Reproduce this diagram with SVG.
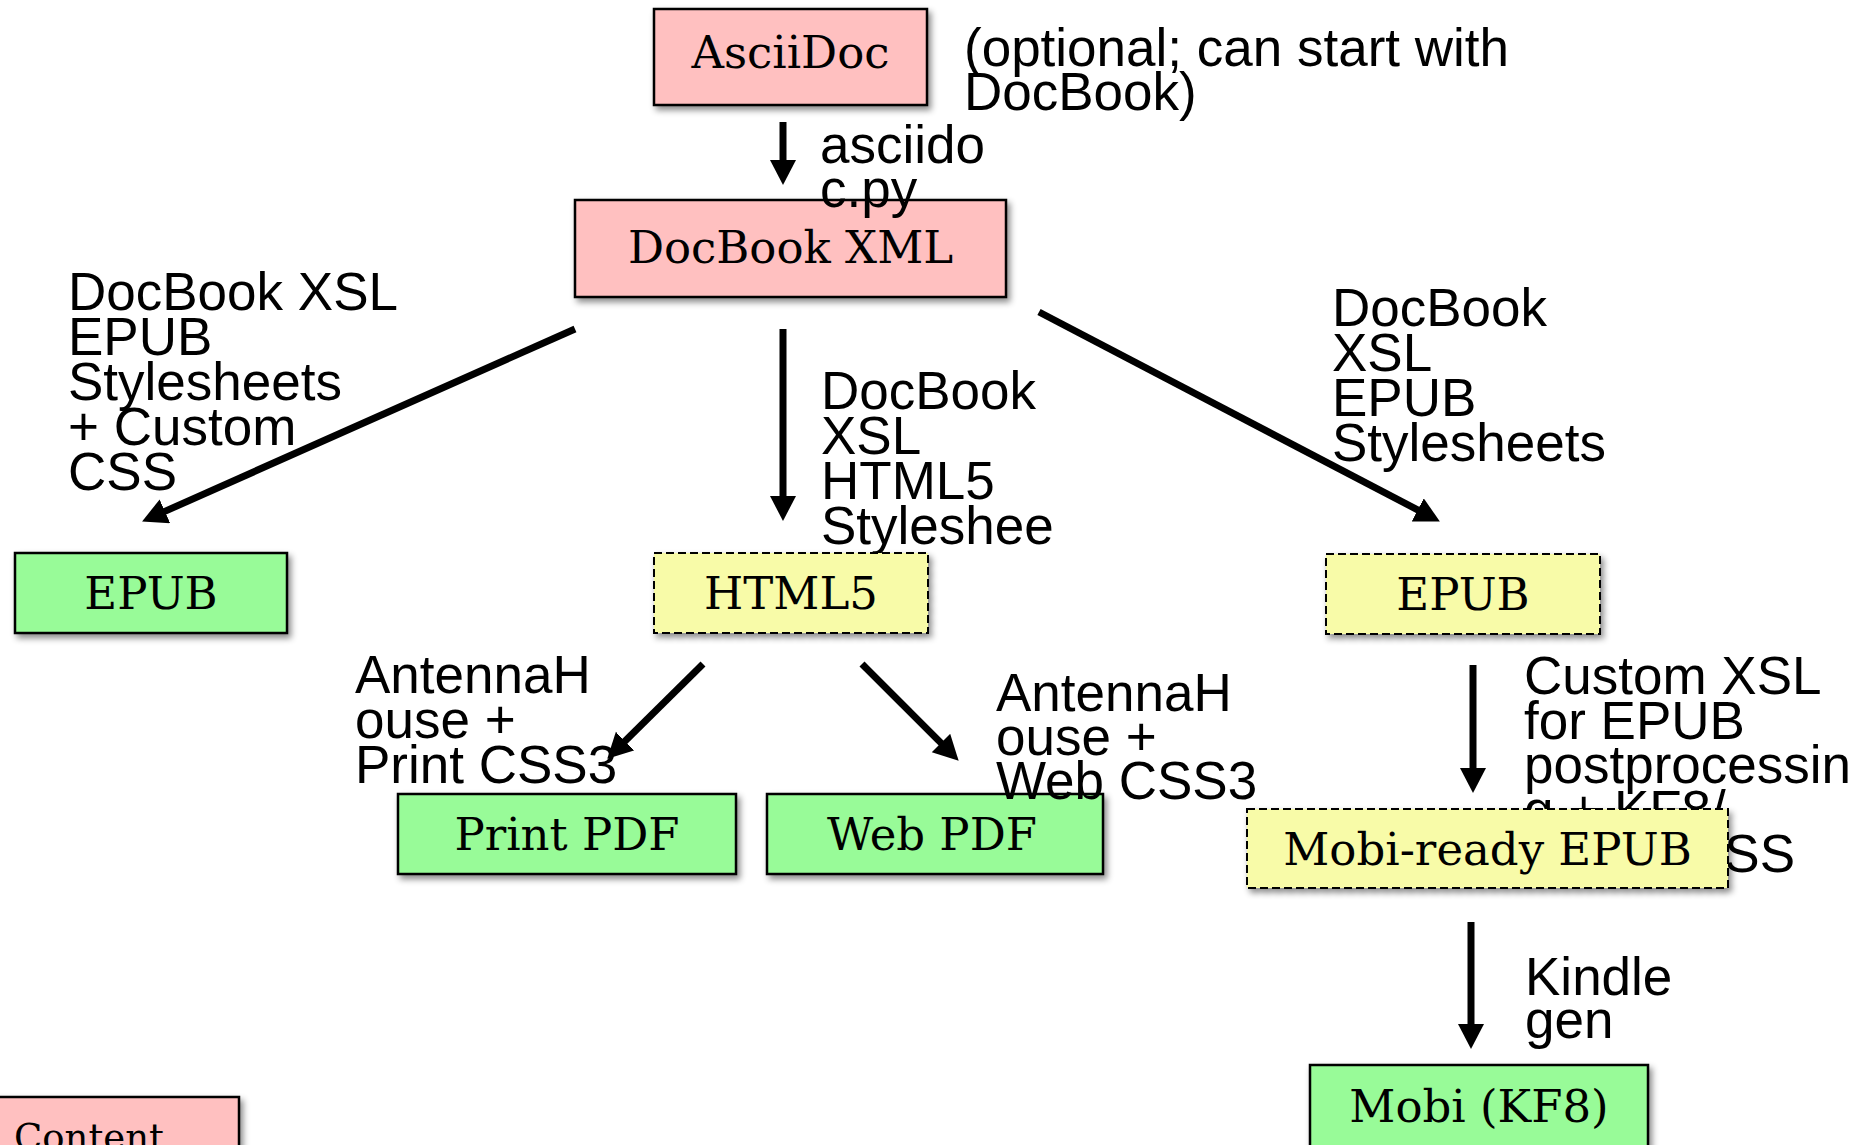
<svg xmlns="http://www.w3.org/2000/svg" width="1863" height="1145" viewBox="0 0 1863 1145">
<style>
.box{stroke:#000;stroke-width:2.5}
.dash{stroke:#000;stroke-width:2;stroke-dasharray:8 4}
.pink{fill:#ffc0c0}
.green{fill:#98fb98}
.yellow{fill:#f8fba8}
.nt{font-family:"DejaVu Serif","Liberation Serif",serif;font-size:45px;fill:#000;text-anchor:middle}
.lb{font-family:"Liberation Sans",Arial,sans-serif;font-size:53px;fill:#000}
.cn{stroke:#000;stroke-width:7;fill:none;marker-end:url(#ah)}
</style>
<defs>
<filter id="sh" x="-10%" y="-10%" width="130%" height="140%">
<feDropShadow dx="3" dy="4" stdDeviation="3" flood-color="#000" flood-opacity="0.45"/>
</filter>
<marker id="ah" markerUnits="userSpaceOnUse" markerWidth="28" markerHeight="28" refX="2" refY="13" orient="auto">
<path d="M0,0 L25,13 L0,26 z" fill="#000"/>
</marker>
</defs>
<rect width="1863" height="1145" fill="#fff"/>

<g id="asciidoc"><rect class="box pink" x="654" y="9" width="273" height="96" filter="url(#sh)"/><text class="nt" x="790.5" y="68">AsciiDoc</text></g>
<g id="docbookxml"><rect class="box pink" x="575" y="200" width="431" height="97" filter="url(#sh)"/><text class="nt" x="790.5" y="263">DocBook XML</text></g>
<g id="epub-left"><rect class="box green" x="15" y="553" width="272" height="80" filter="url(#sh)"/><text class="nt" x="151" y="609">EPUB</text></g>
<g id="printpdf"><rect class="box green" x="398" y="794" width="338" height="80" filter="url(#sh)"/><text class="nt" x="567" y="850">Print PDF</text></g>
<g id="webpdf"><rect class="box green" x="767" y="794" width="336" height="80" filter="url(#sh)"/><text class="nt" x="932" y="850">Web PDF</text></g>
<g id="mobi"><rect class="box green" x="1310" y="1065" width="338" height="84" filter="url(#sh)"/><text class="nt" x="1479" y="1122">Mobi (KF8)</text></g>
<g id="content"><rect class="box pink" x="-35" y="1097" width="274" height="60" filter="url(#sh)"/><text class="nt" x="14" y="1150" style="text-anchor:start;font-size:37px">Content</text></g>

<g id="connectors">
<line class="cn" x1="783" y1="122" x2="783" y2="162"/>
<line class="cn" x1="575" y1="329" x2="163.1" y2="512.1"/>
<line class="cn" x1="783" y1="329" x2="783" y2="498"/>
<line class="cn" x1="1039" y1="312" x2="1419.5" y2="510.8"/>
<line class="cn" x1="703" y1="664" x2="623.6" y2="742.5"/>
<line class="cn" x1="862" y1="664" x2="942.4" y2="744.4"/>
<line class="cn" x1="1473" y1="665" x2="1473" y2="770"/>
<line class="cn" x1="1471" y1="922" x2="1471" y2="1026"/>
</g>

<g id="labels">
<text class="lb" x="964" y="66"><tspan x="964">(optional; can start with</tspan><tspan x="964" dy="44">DocBook)</tspan></text>
<text class="lb" x="820" y="163"><tspan x="820">asciido</tspan><tspan x="820" dy="44">c.py</tspan></text>
<text class="lb" x="68" y="310"><tspan x="68">DocBook XSL</tspan><tspan x="68" dy="45">EPUB</tspan><tspan x="68" dy="45">Stylesheets</tspan><tspan x="68" dy="45">+ Custom</tspan><tspan x="68" dy="45">CSS</tspan></text>
<text class="lb" x="821" y="409"><tspan x="821">DocBook</tspan><tspan x="821" dy="45">XSL</tspan><tspan x="821" dy="45">HTML5</tspan><tspan x="821" dy="45">Styleshee</tspan></text>
<text class="lb" x="1332" y="326"><tspan x="1332">DocBook</tspan><tspan x="1332" dy="45">XSL</tspan><tspan x="1332" dy="45">EPUB</tspan><tspan x="1332" dy="45">Stylesheets</tspan></text>
<text class="lb" x="355" y="693"><tspan x="355">AntennaH</tspan><tspan x="355" dy="45">ouse +</tspan><tspan x="355" dy="45">Print CSS3</tspan></text>
<text class="lb" x="996" y="711"><tspan x="996">AntennaH</tspan><tspan x="996" dy="44">ouse +</tspan><tspan x="996" dy="44">Web CSS3</tspan></text>
<text class="lb" x="1524" y="694"><tspan x="1524">Custom XSL</tspan><tspan x="1524" dy="44.5">for EPUB</tspan><tspan x="1524" dy="44.5">postprocessin</tspan><tspan x="1524" dy="44.5">g + KF8/</tspan><tspan x="1524" dy="44.5">Kindle CSS</tspan></text>
<text class="lb" x="1525" y="995"><tspan x="1525">Kindle</tspan><tspan x="1525" dy="43">gen</tspan></text>
</g>

<g id="html5"><rect class="dash yellow" x="654" y="553" width="274" height="80" filter="url(#sh)"/><text class="nt" x="791" y="609">HTML5</text></g>
<g id="epub-right"><rect class="dash yellow" x="1326" y="554" width="274" height="80" filter="url(#sh)"/><text class="nt" x="1463" y="610">EPUB</text></g>
<g id="mobiready"><rect class="dash yellow" x="1247" y="809" width="481" height="79" filter="url(#sh)"/><text class="nt" x="1487.5" y="865">Mobi-ready EPUB</text></g>
</svg>
